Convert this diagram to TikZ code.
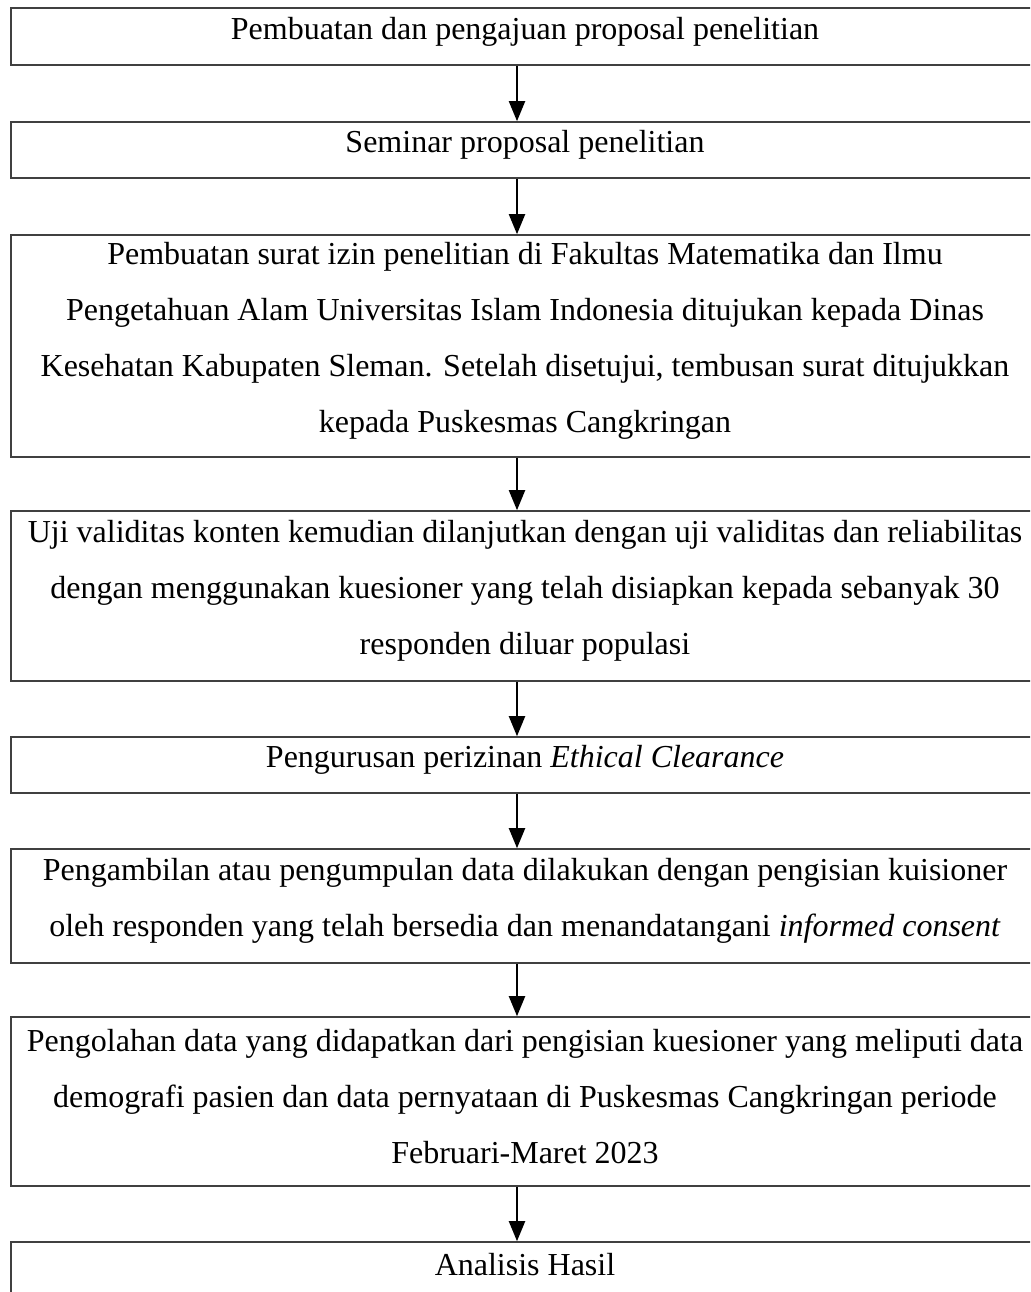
\documentclass[tikz,border=0pt]{standalone}
\usepackage{fontspec}
\setmainfont{Liberation Serif}
\usetikzlibrary{arrows.meta}
\begin{document}
\begin{tikzpicture}[x=1pt,y=-1pt,
  boxst/.style={draw=black!75, line width=1.6pt, rectangle, minimum width=1028pt, inner sep=0pt},
  txt/.style={inner sep=0pt, align=center, yshift=5pt, font=\fontsize{32}{56}\selectfont},
  arr/.style={draw=black, line width=2pt, -{Triangle[length=20pt,width=16pt]}}]
\useasboundingbox (0,0) rectangle (1030,1292);
\clip (0,0) rectangle (1030,1292);
\coordinate (ax) at (517,0);
\node[boxst, minimum height=57pt] (b1) at (525,36.5) {};
\node[boxst, minimum height=56pt] (b2) at (525,150) {};
\node[boxst, minimum height=222pt] (b3) at (525,346) {};
\node[boxst, minimum height=170pt] (b4) at (525,596) {};
\node[boxst, minimum height=56pt] (b5) at (525,765) {};
\node[boxst, minimum height=114pt] (b6) at (525,906) {};
\node[boxst, minimum height=169pt] (b7) at (525,1101.5) {};
\node[boxst, minimum height=56pt] (b8) at (525,1270) {};
\node[txt] (t1) at (b1) {Pembuatan dan pengajuan proposal penelitian};
\node[txt] (t2) at (b2) {Seminar proposal penelitian};
\node[txt] (t3) at (b3) {Pembuatan surat izin penelitian di Fakultas Matematika dan Ilmu\\Pengetahuan Alam Universitas Islam Indonesia ditujukan kepada Dinas\\Kesehatan Kabupaten Sleman. Setelah disetujui, tembusan surat ditujukkan\\kepada Puskesmas Cangkringan};
\node[txt] (t4) at (b4) {Uji validitas konten kemudian dilanjutkan dengan uji validitas dan reliabilitas\\dengan menggunakan kuesioner yang telah disiapkan kepada sebanyak 30\\responden diluar populasi};
\node[txt] (t5) at (b5) {Pengurusan perizinan \textit{Ethical Clearance}};
\node[txt] (t6) at (b6) {Pengambilan atau pengumpulan data dilakukan dengan pengisian kuisioner\\oleh responden yang telah bersedia dan menandatangani \textit{informed consent}};
\node[txt] (t7) at (b7) {Pengolahan data yang didapatkan dari pengisian kuesioner yang meliputi data\\demografi pasien dan data pernyataan di Puskesmas Cangkringan periode\\Februari-Maret 2023};
\node[txt] (t8) at (b8) {Analisis Hasil};
\draw[arr] (b1.south -| ax) -- (b2.north -| ax);
\draw[arr] (b2.south -| ax) -- (b3.north -| ax);
\draw[arr] (b3.south -| ax) -- (b4.north -| ax);
\draw[arr] (b4.south -| ax) -- (b5.north -| ax);
\draw[arr] (b5.south -| ax) -- (b6.north -| ax);
\draw[arr] (b6.south -| ax) -- (b7.north -| ax);
\draw[arr] (b7.south -| ax) -- (b8.north -| ax);
\end{tikzpicture}
\end{document}
